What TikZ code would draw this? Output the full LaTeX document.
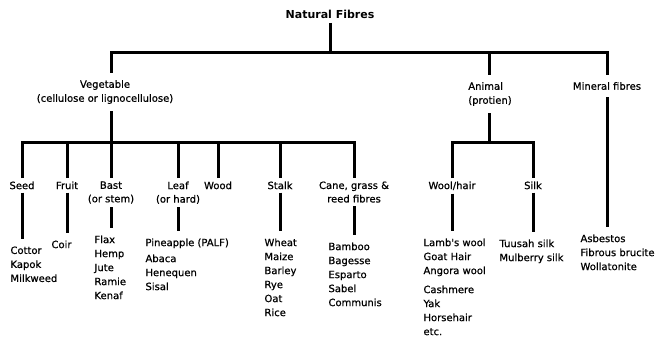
\documentclass[tikz,border=0pt]{standalone}
\usepackage{fontspec}
\setmainfont{DejaVu Sans}
\newfontfamily\fibrefont{DejaVu Sans}[FakeBold=0.7]
\usetikzlibrary{positioning}

\begin{document}
\begin{tikzpicture}
  [x=1pt,y=-1pt,
   line width=3pt,
   titlenode/.style={font=\fontsize{11}{13}\selectfont\bfseries,
                     inner sep=3pt},
   groupnode/.style={font=\fibrefont\fontsize{10}{14}\selectfont,
                     align=center,
                     inner ysep=6pt},
   catnode/.style={font=\fibrefont\fontsize{10}{13.5}\selectfont,
                   align=center,
                   anchor=north,
                   inner sep=2pt},
   listnode/.style={font=\fibrefont\fontsize{10}{14}\selectfont,
                    align=left,
                    anchor=north west,
                    inner sep=0pt},
   drop/.style={shorten >=6pt},]
  \useasboundingbox (0,0) rectangle (655,338);
  % top levels
  \node[titlenode] (nat)     at (330,14) {Natural Fibres};
  \node[groupnode] (veg)     at (105,92) {Vegetable\\(cellulose or lignocellulose)};
  \node[groupnode,align=left] (anim) at (490,94) {Animal\\(protien)};
  \node[groupnode] (mineral) at (607,86) {Mineral fibres};
  \coordinate (bus)  at (330,52);
  \coordinate (vbus) at (111,142);
  \coordinate (abus) at (489,142);
  % vegetable groups
  \node[catnode] (seed)  at (22,178)  {Seed};
  \node[catnode] (fruit) at (67,178)  {Fruit};
  \node[catnode] (bast)  at (111,178) {Bast\\(or stem)};
  \node[catnode] (leaf)  at (178,178) {Leaf\\(or hard)};
  \node[catnode] (wood)  at (218,178) {Wood};
  \node[catnode] (stalk) at (280,178) {Stalk};
  \node[catnode] (cane)  at (354,178) {Cane, grass \&\\reed fibres};
  % animal groups
  \node[catnode] (wool)  at (452,178) {Wool/hair};
  \node[catnode] (silk)  at (533,178) {Silk};
  % fibre lists
  \node[listnode] (seedlist)  at (9,245)   {Cottor\\Kapok\\Milkweed};
  \node[listnode] (fruitlist) at (50,239)  {Coir};
  \node[listnode] (bastlist)  at (93,234)  {Flax\\Hemp\\Jute\\Ramie\\Kenaf};
  \node[listnode] (leaflist)  at (144,237) {Pineapple (PALF)\\[2pt]Abaca\\Henequen\\Sisal};
  \node[listnode] (stalklist) at (263,237) {Wheat\\Maize\\Barley\\Rye\\Oat\\Rice};
  \node[listnode] (canelist)  at (327,241) {Bamboo\\Bagesse\\Esparto\\Sabel\\Communis};
  \node[listnode] (woollist)  at (422,237) {Lamb's wool\\Goat Hair\\Angora wool\\[5pt]Cashmere\\Yak\\Horsehair\\etc.};
  \node[listnode] (silklist)  at (498,238) {Tuusah silk\\Mulberry silk};
  \node[listnode] (minlist)   at (579,233) {Asbestos\\Fibrous brucite\\Wollatonite};
  % tree lines
  \draw (nat) -- (bus);
  \draw (veg.north -| vbus) |- (bus) -| (mineral.north);
  \draw (anim.north -| abus) -- (abus |- bus);
  \draw (veg.south -| vbus) -- (vbus);
  \draw (seed.north) |- (cane.north |- vbus) -- (cane.north);
  \foreach \c in {fruit,bast,leaf,wood,stalk}
    \draw (\c.north) -- (\c.north |- vbus);
  \draw (anim.south -| abus) -- (abus);
  \draw (wool.north) |- (silk.north |- abus) -- (silk.north);
  \foreach \c/\l in {seed/seedlist,fruit/fruitlist,bast/bastlist,leaf/leaflist,
                     stalk/stalklist,cane/canelist,wool/woollist,silk/silklist,
                     mineral/minlist}
    \draw[drop] (\c.south) -- (\c.south |- \l.north);
\end{tikzpicture}
\end{document}
